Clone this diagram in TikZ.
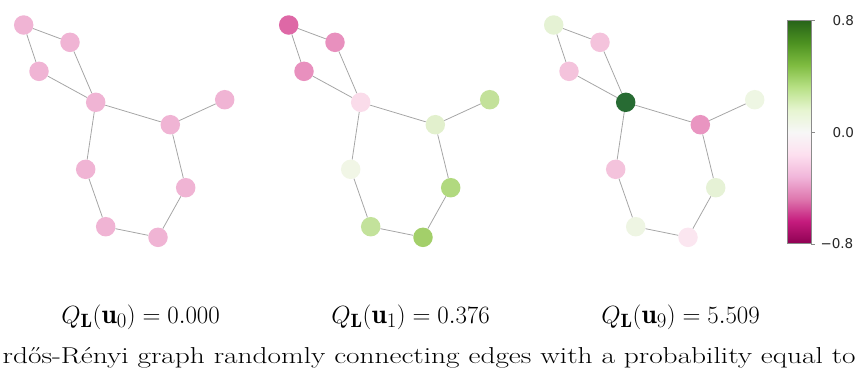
\documentclass[tikz,border=0pt]{standalone}
\usepackage{fontspec}
\usepackage{amsmath}
\usepackage{graphicx}
\newfontfamily\cbfont{DejaVu Sans}

% PiYG colour map
\definecolor{pg0}{HTML}{8E0152}
\definecolor{pg1}{HTML}{C51B7D}
\definecolor{pg2}{HTML}{DE77AE}
\definecolor{pg3}{HTML}{F1B6DA}
\definecolor{pg4}{HTML}{FDE0EF}
\definecolor{pg5}{HTML}{F7F7F7}
\definecolor{pg6}{HTML}{E6F5D0}
\definecolor{pg7}{HTML}{B8E186}
\definecolor{pg8}{HTML}{7FBC41}
\definecolor{pg9}{HTML}{4D9221}
\definecolor{pg10}{HTML}{276419}
\pgfdeclareverticalshading{piyg}{100bp}{color(0bp)=(pg0); color(25bp)=(pg0);
  color(30bp)=(pg1); color(35bp)=(pg2); color(40bp)=(pg3); color(45bp)=(pg4);
  color(50bp)=(pg5); color(55bp)=(pg6); color(60bp)=(pg7); color(65bp)=(pg8);
  color(70bp)=(pg9); color(75bp)=(pg10); color(100bp)=(pg10)}

% vertex colours, one set per graph
\definecolor{c1a}{HTML}{F0B4D4}\definecolor{c1b}{HTML}{F0B4D4}
\definecolor{c1c}{HTML}{F0B4D4}\definecolor{c1d}{HTML}{F0B4D4}
\definecolor{c1e}{HTML}{F0B4D4}\definecolor{c1f}{HTML}{F0B4D4}
\definecolor{c1g}{HTML}{F0B4D4}\definecolor{c1h}{HTML}{F0B4D4}
\definecolor{c1i}{HTML}{F0B4D4}\definecolor{c1j}{HTML}{F0B4D4}

\definecolor{c2a}{HTML}{DE68A6}\definecolor{c2b}{HTML}{E890BE}
\definecolor{c2c}{HTML}{E890BE}\definecolor{c2d}{HTML}{FADCEA}
\definecolor{c2e}{HTML}{C3E19A}\definecolor{c2f}{HTML}{E2F0CD}
\definecolor{c2g}{HTML}{F1F6E6}\definecolor{c2h}{HTML}{B1D97F}
\definecolor{c2i}{HTML}{C3E29B}\definecolor{c2j}{HTML}{A3CF6A}

\definecolor{c3a}{HTML}{E5F2D4}\definecolor{c3b}{HTML}{F4C3DC}
\definecolor{c3c}{HTML}{F4C3DC}\definecolor{c3d}{HTML}{276B33}
\definecolor{c3e}{HTML}{EEF6E3}\definecolor{c3f}{HTML}{E995C1}
\definecolor{c3g}{HTML}{F4C3DC}\definecolor{c3h}{HTML}{E6F2D6}
\definecolor{c3i}{HTML}{EEF5E3}\definecolor{c3j}{HTML}{FBE6F0}

\definecolor{edgegray}{HTML}{A6A6A6}
\definecolor{cbframe}{HTML}{8A8A8A}

\begin{document}
\begin{tikzpicture}[x=1pt,y=-1pt,
    vtx/.style={circle, minimum size=19.5pt, inner sep=0pt, draw=none},
    edge/.style={draw=edgegray, line width=0.8pt},
    cbtick/.style={draw=cbframe, line width=0.6pt},
    cblabel/.style={font=\cbfont\fontsize{13.5}{15}\selectfont, text=black!85, anchor=west, inner sep=0pt},
    formula/.style={font=\fontsize{27.5}{32}\selectfont, anchor=base east, inner sep=0pt}]
  \useasboundingbox (0,0) rectangle (858,376);

  % three copies of the same graph, coloured by eigenvector entries
  \foreach \g/\dx in {1/0, 2/265, 3/530} {
    \begin{scope}[xshift=\dx]
      \node[vtx, fill=c\g a] (g\g a) at (23.7,25.0) {};
      \node[vtx, fill=c\g b] (g\g b) at (70.0,42.3) {};
      \node[vtx, fill=c\g c] (g\g c) at (39.0,71.3) {};
      \node[vtx, fill=c\g d] (g\g d) at (95.7,102.3) {};
      \node[vtx, fill=c\g e] (g\g e) at (224.7,99.7) {};
      \node[vtx, fill=c\g f] (g\g f) at (170.3,124.7) {};
      \node[vtx, fill=c\g g] (g\g g) at (85.7,169.3) {};
      \node[vtx, fill=c\g h] (g\g h) at (185.7,187.7) {};
      \node[vtx, fill=c\g i] (g\g i) at (105.7,226.7) {};
      \node[vtx, fill=c\g j] (g\g j) at (158.0,237.3) {};
      \foreach \u/\v in {a/b, a/c, b/d, c/d, d/f, f/e, d/g, g/i, i/j, j/h, h/f}
        \path[edge] (g\g\u) -- (g\g\v);
    \end{scope}
  }

  % colour bar
  \node[draw=cbframe, line width=0.6pt, shading=piyg, inner sep=0pt,
        minimum width=23.4pt, minimum height=223pt, anchor=north west] (cbar) at (787.3,20.3) {};
  \coordinate (tk8) at (cbar.north east);
  \coordinate (tk0) at (cbar.east);
  \coordinate (tkm) at (cbar.south east);
  \draw[cbtick] (tk8) -- ++(4,0) coordinate (tk8e);
  \draw[cbtick] (tk0) -- ++(4,0) coordinate (tk0e);
  \draw[cbtick] (tkm) -- ++(4,0) coordinate (tkme);
  \node[cblabel] (l8) at ([xshift=17pt]tk8e) {0.8};
  \node[cblabel] (l0) at ([xshift=17pt]tk0e) {0.0};
  \node[cblabel] (lm) at ([xshift=5pt]tkme) {\char"2212 0.8};

  % eigenvector labels
  \node[formula] (q0) at (220,323) {$Q_{\mathbf{L}}(\mathbf{u}_0) = 0.000$};
  \node[formula] (q1) at (490,323) {$Q_{\mathbf{L}}(\mathbf{u}_1) = 0.376$};
  \node[formula] (q9) at (760,323) {$Q_{\mathbf{L}}(\mathbf{u}_9) = 5.509$};

  % caption line
  \node[anchor=base west, inner sep=0pt, font=\fontsize{23}{27}\selectfont] (cap) at (2.5,363)
    {\resizebox{853pt}{\height}{rdős-Rényi graph randomly connecting edges with a probability equal to}};
\end{tikzpicture}
\end{document}
